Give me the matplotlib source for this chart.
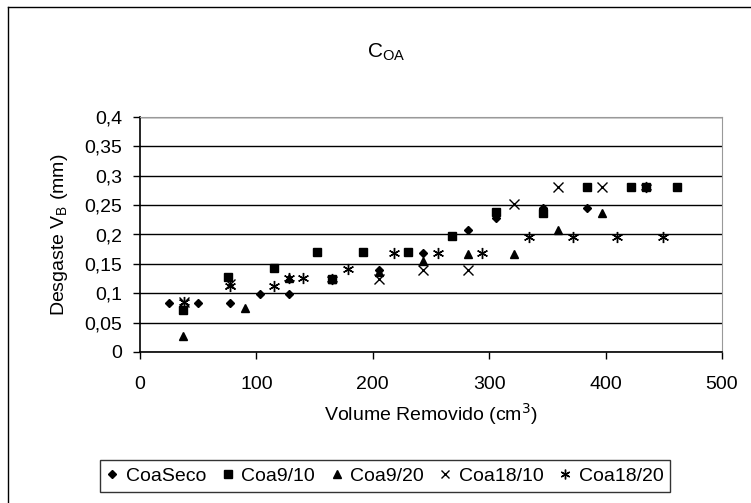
import matplotlib
matplotlib.use("Agg")
import matplotlib.pyplot as plt
from matplotlib.lines import Line2D
from matplotlib.ticker import FuncFormatter

plt.rcParams['font.family'] = ['Liberation Sans', 'DejaVu Sans']

# data
seco_x = [25, 50, 77, 103, 128, 205, 243, 282, 306, 346, 384]
seco_y = [0.083, 0.083, 0.083, 0.098, 0.098, 0.14, 0.168, 0.208, 0.228, 0.245, 0.245]

c910_x = [37, 76, 115, 152, 165, 192, 230, 268, 306, 346, 384, 422, 435, 461]
c910_y = [0.071, 0.128, 0.143, 0.17, 0.125, 0.17, 0.17, 0.197, 0.238, 0.237, 0.28, 0.28, 0.28, 0.28]

c920_x = [37, 90, 128, 165, 205, 243, 282, 321, 359, 397]
c920_y = [0.027, 0.075, 0.126, 0.125, 0.137, 0.155, 0.167, 0.167, 0.208, 0.236]

c1810_x = [38, 77, 205, 243, 282, 321, 359, 397]
c1810_y = [0.085, 0.115, 0.125, 0.14, 0.14, 0.252, 0.28, 0.28]

c1820_x = [38, 77, 115, 128, 140, 165, 179, 218, 256, 294, 334, 372, 410, 435, 449]
c1820_y = [0.085, 0.112, 0.113, 0.126, 0.126, 0.125, 0.142, 0.168, 0.168, 0.168, 0.195, 0.195, 0.195, 0.28, 0.195]

y_ticks = [0, 0.05, 0.1, 0.15, 0.2, 0.25, 0.3, 0.35, 0.4]
x_ticks = [0, 100, 200, 300, 400, 500]

fig = plt.figure(figsize=(7.51, 5.03), dpi=100)
ax = fig.add_axes([140 / 751, 1 - 352 / 503, 582 / 751, 235 / 503])

star = (6, 2, 0)
ax.plot(seco_x, seco_y, 'D', color='black', markersize=4.5, label='CoaSeco')
ax.plot(c910_x, c910_y, 's', color='black', markersize=5.5, label='Coa9/10')
ax.plot(c920_x, c920_y, '^', color='black', markersize=6, label='Coa9/20')
ax.plot(c1810_x, c1810_y, 'x', color='black', markersize=7, markeredgewidth=1, label='Coa18/10')
ax.plot(c1820_x, c1820_y, marker=star, linestyle='none', color='black', markersize=8,
        markeredgewidth=1, label='Coa18/20')

ax.set_xlim(0, 500)
ax.set_ylim(0, 0.4)
ax.set_xticks(x_ticks)
ax.set_yticks(y_ticks)
ax.yaxis.set_major_formatter(FuncFormatter(lambda v, p: ('%g' % round(v, 2)).replace('.', ',')))
ax.yaxis.grid(True, color='black', linewidth=1)
ax.set_axisbelow(True)
ax.tick_params(direction='out', length=5, width=1, labelsize=14, colors='black')
ax.tick_params(axis='y', pad=8)
ax.tick_params(axis='x', pad=12)

for s in ['left', 'bottom']:
    ax.spines[s].set_color('black')
    ax.spines[s].set_linewidth(1.2)
for s in ['top', 'right']:
    ax.spines[s].set_color('#999999')

ax.set_xlabel('Volume Removido (cm$^3$)', fontsize=14, labelpad=6)
ax.set_ylabel('Desgaste V$_\\mathregular{B}$ (mm)', fontsize=14, labelpad=10)
fig.text(386 / 751, 1 - 52 / 503, 'C$_\\mathregular{OA}$', ha='center', va='center', fontsize=15)

handles = [
    Line2D([], [], marker='D', color='black', linestyle='none', markersize=4.5),
    Line2D([], [], marker='s', color='black', linestyle='none', markersize=5.5),
    Line2D([], [], marker='^', color='black', linestyle='none', markersize=5.5),
    Line2D([], [], marker='x', color='black', linestyle='none', markersize=6),
    Line2D([], [], marker=star, color='black', linestyle='none', markersize=7),
]
labels = ['CoaSeco', 'Coa9/10', 'Coa9/20', 'Coa18/10', 'Coa18/20']
leg = fig.legend(handles, labels, loc='center', bbox_to_anchor=(385 / 751, 1 - 476 / 503), ncol=5,
                 fontsize=14, frameon=True, fancybox=False, edgecolor='black',
                 handlelength=0.6, handletextpad=0.4, columnspacing=0.8, borderpad=0.35)
leg.get_frame().set_linewidth(1)

# outer chart border
fig.add_artist(Line2D([8 / 751, 8 / 751], [0, 1 - 7 / 503], color='black', linewidth=1))
fig.add_artist(Line2D([8 / 751, 1], [1 - 7 / 503, 1 - 7 / 503], color='black', linewidth=1))

fig.savefig('out.png', dpi=100)
